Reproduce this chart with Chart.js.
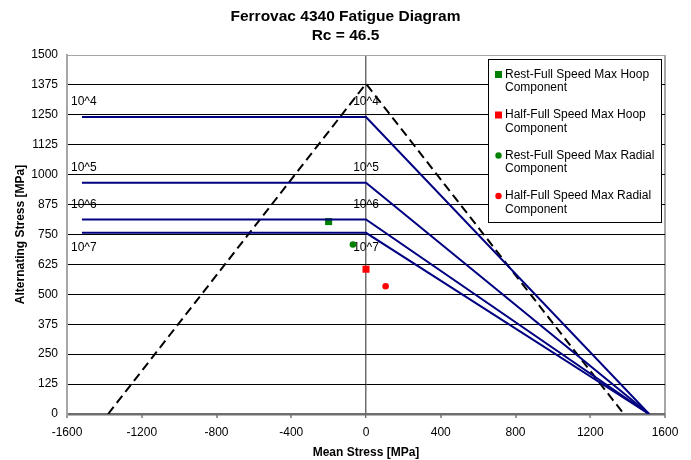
<!DOCTYPE html>
<html lang="en">
<head>
  <meta charset="UTF-8">
  <title>Ferrovac 4340 Fatigue Diagram</title>
  <script src="https://cdn.jsdelivr.net/npm/chart.js"></script>
  <style>
    html, body {
      margin: 0;
      padding: 0;
      background: #fff;
    }
  </style>
</head>
<body>
  <canvas id="fatigueChart" width="691" height="460"></canvas>

  <script>
    // cycle lives and the alternating stress limit at zero mean stress (MPa)
    const lifeLabels = ['10^4', '10^5', '10^6', '10^7'];
    const enduranceLimits = [1241, 966, 813, 757];
    const labelAbove = [true, true, true, false];
    const lineStartMean = -1520;    // left end of the horizontal lines
    const ultimateStrength = 1515;  // where the Goodman lines hit zero
    const yieldStrength = 1380;     // dashed yield triangle

    // measured stress points
    const pointNames = [
      'Rest-Full Speed Max Hoop Component',
      'Half-Full Speed Max Hoop Component',
      'Rest-Full Speed Max Radial Component',
      'Half-Full Speed Max Radial Component'
    ];
    const pointMean = [-200, 0, -70, 105];
    const pointAlt = [804, 605, 708, 534];
    const pointColors = ['#008000', '#ff0000', '#008000', '#ff0000'];
    const pointShapes = ['rect', 'rect', 'circle', 'circle'];

    const xTicks = [-1600, -1200, -800, -400, 0, 400, 800, 1200, 1600];
    const yTicks = [0, 125, 250, 375, 500, 625, 750, 875, 1000, 1125, 1250, 1375, 1500];

    const fontFamily = '"Liberation Sans", Arial, sans-serif';

    const datasets = [];
    enduranceLimits.forEach((lim, i) => {
      datasets.push({
        label: lifeLabels[i],
        data: [
          { x: lineStartMean, y: lim },
          { x: 0, y: lim },
          { x: ultimateStrength, y: 0 }
        ],
        showLine: true,
        borderColor: '#000080',
        borderWidth: 2,
        pointRadius: 0,
        inLegend: false
      });
    });
    datasets.push({
      label: 'Yield',
      data: [
        { x: -yieldStrength, y: 0 },
        { x: 0, y: yieldStrength },
        { x: yieldStrength, y: 0 }
      ],
      showLine: true,
      borderColor: '#000',
      borderWidth: 2,
      borderDash: [9, 5],
      pointRadius: 0,
      inLegend: false
    });
    pointNames.forEach((name, i) => {
      datasets.push({
        label: name,
        data: [{ x: pointMean[i], y: pointAlt[i] }],
        showLine: false,
        pointStyle: pointShapes[i],
        pointRadius: pointShapes[i] === 'rect' ? 5 : 3.3,
        pointBackgroundColor: pointColors[i],
        pointBorderWidth: 0,
        inLegend: true
      });
    });

    // "10^n" text next to each line
    const lifeLabelPlugin = {
      id: 'lifeLabels',
      beforeDatasetsDraw(chart) {
        const { ctx, chartArea, scales: { x, y } } = chart;
        ctx.save();
        ctx.font = '12px ' + fontFamily;
        ctx.fillStyle = '#000';
        ctx.textBaseline = 'middle';
        lifeLabels.forEach((lbl, i) => {
          const py = y.getPixelForValue(enduranceLimits[i]) + (labelAbove[i] ? -15 : 15);
          ctx.textAlign = 'left';
          ctx.fillText(lbl, chartArea.left + 4, py);
          ctx.textAlign = 'center';
          ctx.fillText(lbl, x.getPixelForValue(0), py);
        });
        ctx.restore();
      }
    };

    // boxed legend with two-line entries, like the Excel one
    const boxLegendPlugin = {
      id: 'boxLegend',
      afterDraw(chart) {
        const { ctx } = chart;
        const box = { left: 488.5, top: 59.5, width: 173, height: 163 };
        ctx.save();
        ctx.fillStyle = '#fff';
        ctx.fillRect(box.left, box.top, box.width, box.height);
        ctx.strokeStyle = '#000';
        ctx.lineWidth = 1;
        ctx.strokeRect(box.left, box.top, box.width, box.height);
        ctx.font = '12px ' + fontFamily;
        ctx.textBaseline = 'middle';
        ctx.textAlign = 'left';
        const items = chart.data.datasets.filter(d => d.inLegend);
        items.forEach((ds, k) => {
          const y1 = 74.5 + k * 40.5;
          ctx.fillStyle = ds.pointBackgroundColor;
          if (ds.pointStyle === 'rect') {
            ctx.fillRect(495, y1 - 3.5, 7, 7);
          } else {
            ctx.beginPath();
            ctx.arc(498.5, y1, 3.2, 0, Math.PI * 2);
            ctx.fill();
          }
          const cut = ds.label.lastIndexOf(' ');
          ctx.fillStyle = '#000';
          ctx.fillText(ds.label.slice(0, cut), 505, y1);
          ctx.fillText(ds.label.slice(cut + 1), 505, y1 + 13.5);
        });
        ctx.restore();
      }
    };

    const ctx = document.getElementById('fatigueChart').getContext('2d');
    const fatigueChart = new Chart(ctx, {
      type: 'scatter',
      data: { datasets: datasets },
      options: {
        responsive: false,
        animation: false,
        layout: { padding: 0 },
        plugins: {
          legend: { display: false },
          tooltip: { enabled: false },
          title: {
            display: true,
            text: ['Ferrovac 4340 Fatigue Diagram', 'Rc = 46.5'],
            color: '#000',
            font: { family: fontFamily, size: 15.5, weight: 'bold', lineHeight: 1.25 },
            padding: { top: 7, bottom: 9.25 }
          }
        },
        scales: {
          x: {
            type: 'linear',
            min: xTicks[0],
            max: xTicks[xTicks.length - 1],
            afterBuildTicks: s => { s.ticks = xTicks.map(v => ({ value: v })); },
            afterFit: s => { s.height = 46; },
            grid: {
              color: c => c.tick && c.tick.value === 0 ? '#6e6e6e'
                : (c.tick && Math.abs(c.tick.value) === 1600 ? '#a6a6a6' : 'rgba(0,0,0,0)'),
              lineWidth: c => c.tick && c.tick.value === 0 ? 1.5 : 2,
              drawTicks: true,
              tickLength: 4,
              tickColor: '#333',
              tickWidth: 1
            },
            border: { display: false },
            ticks: {
              padding: 7,
              color: '#000',
              font: { family: fontFamily, size: 12 },
              callback: v => String(v)
            },
            title: {
              display: true,
              text: 'Mean Stress [MPa]',
              color: '#000',
              font: { family: fontFamily, size: 12, weight: 'bold' },
              padding: { top: 0, bottom: 0 }
            }
          },
          y: {
            min: yTicks[0],
            max: yTicks[yTicks.length - 1],
            afterBuildTicks: s => { s.ticks = yTicks.map(v => ({ value: v })); },
            afterFit: s => { s.width = 67; },
            grid: {
              color: c => c.tick && c.tick.value === 0 ? '#6e6e6e'
                : (c.tick && c.tick.value === 1500 ? '#a6a6a6' : '#000'),
              lineWidth: c => c.tick && c.tick.value === 0 ? 2.5 : 1,
              drawTicks: false
            },
            border: { display: true, color: '#a6a6a6', width: 2 },
            ticks: {
              padding: 9,
              color: '#000',
              font: { family: fontFamily, size: 12 },
              callback: v => String(v)
            },
            title: {
              display: true,
              text: 'Alternating Stress [MPa]',
              color: '#000',
              font: { family: fontFamily, size: 12, weight: 'bold' },
              padding: { top: 13, bottom: 0 }
            }
          },
          yRight: {
            position: 'right',
            afterFit: s => { s.width = 26; },
            grid: { display: false },
            border: { display: false },
            ticks: { display: false }
          }
        }
      },
      plugins: [lifeLabelPlugin, boxLegendPlugin]
    });
  </script>
</body>
</html>
